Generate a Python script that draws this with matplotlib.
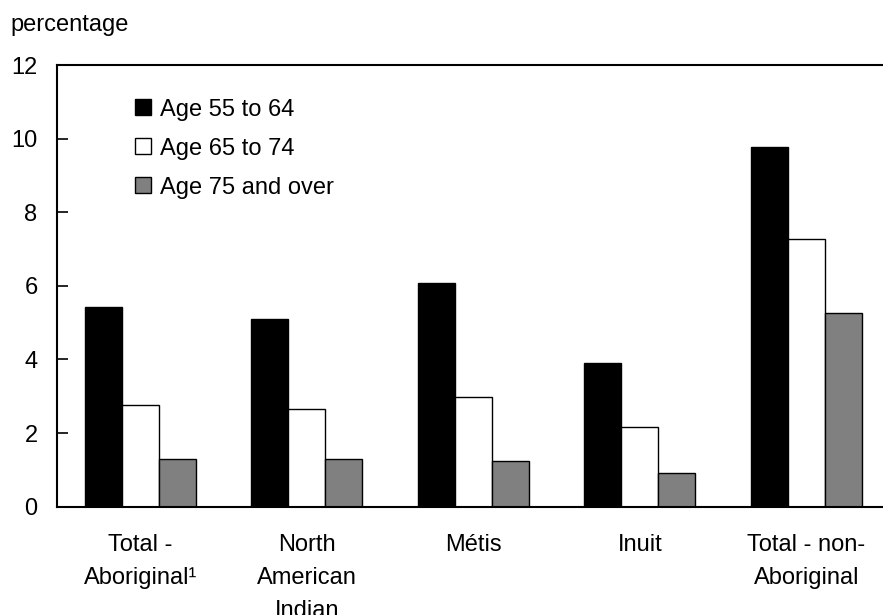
import matplotlib
matplotlib.use("Agg")
import matplotlib.pyplot as plt
import numpy as np

plt.rcParams['font.family'] = ['Liberation Sans', 'DejaVu Sans']

categories = ["Total -\nAboriginal\u00b9", "North\nAmerican\nIndian", "Métis", "Inuit", "Total - non-\nAboriginal"]
series_labels = ["Age 55 to 64", "Age 65 to 74", "Age 75 and over"]
age_55_64 = [5.43, 5.10, 6.09, 3.91, 9.78]
age_65_74 = [2.76, 2.65, 2.99, 2.17, 7.27]
age_75_over = [1.30, 1.30, 1.24, 0.92, 5.27]
yticks = [0, 2, 4, 6, 8, 10, 12]

colors = ["#000000", "#ffffff", "#808080"]

fig = plt.figure(figsize=(8.83, 6.15), dpi=100)
ax = fig.add_axes([57/883, 1-506.7/615, 1-57/883, (506.7-65)/615])

x = np.arange(len(categories))
w = 0.222
for i, (vals, c, lab) in enumerate(zip([age_55_64, age_65_74, age_75_over], colors, series_labels)):
    ax.bar(x + (i - 1) * w, vals, width=w, color=c, edgecolor="black", linewidth=1.0, label=lab)

ax.set_xlim(-0.5, 4.46)
ax.set_ylim(0, 12)
ax.set_yticks(yticks)
ax.set_xticks(x)
ax.set_xticklabels(categories, fontsize=17, linespacing=1.62)
ax.tick_params(axis='x', length=0, pad=20)
ax.tick_params(axis='y', direction='in', length=8, width=1.2, labelsize=17, pad=14)
for s in ['left', 'bottom', 'top']:
    ax.spines[s].set_linewidth(1.5)
ax.spines['right'].set_visible(False)

ax.text(10/883, 1-25/615, "percentage", transform=fig.transFigure, fontsize=17, va='center', ha='left')

leg = ax.legend(loc='upper left', bbox_to_anchor=(0.069, 0.972), frameon=False, fontsize=17,
                handlelength=0.65, handleheight=0.65, handletextpad=0.4, labelspacing=0.72)

fig.savefig("out.png", dpi=100)
